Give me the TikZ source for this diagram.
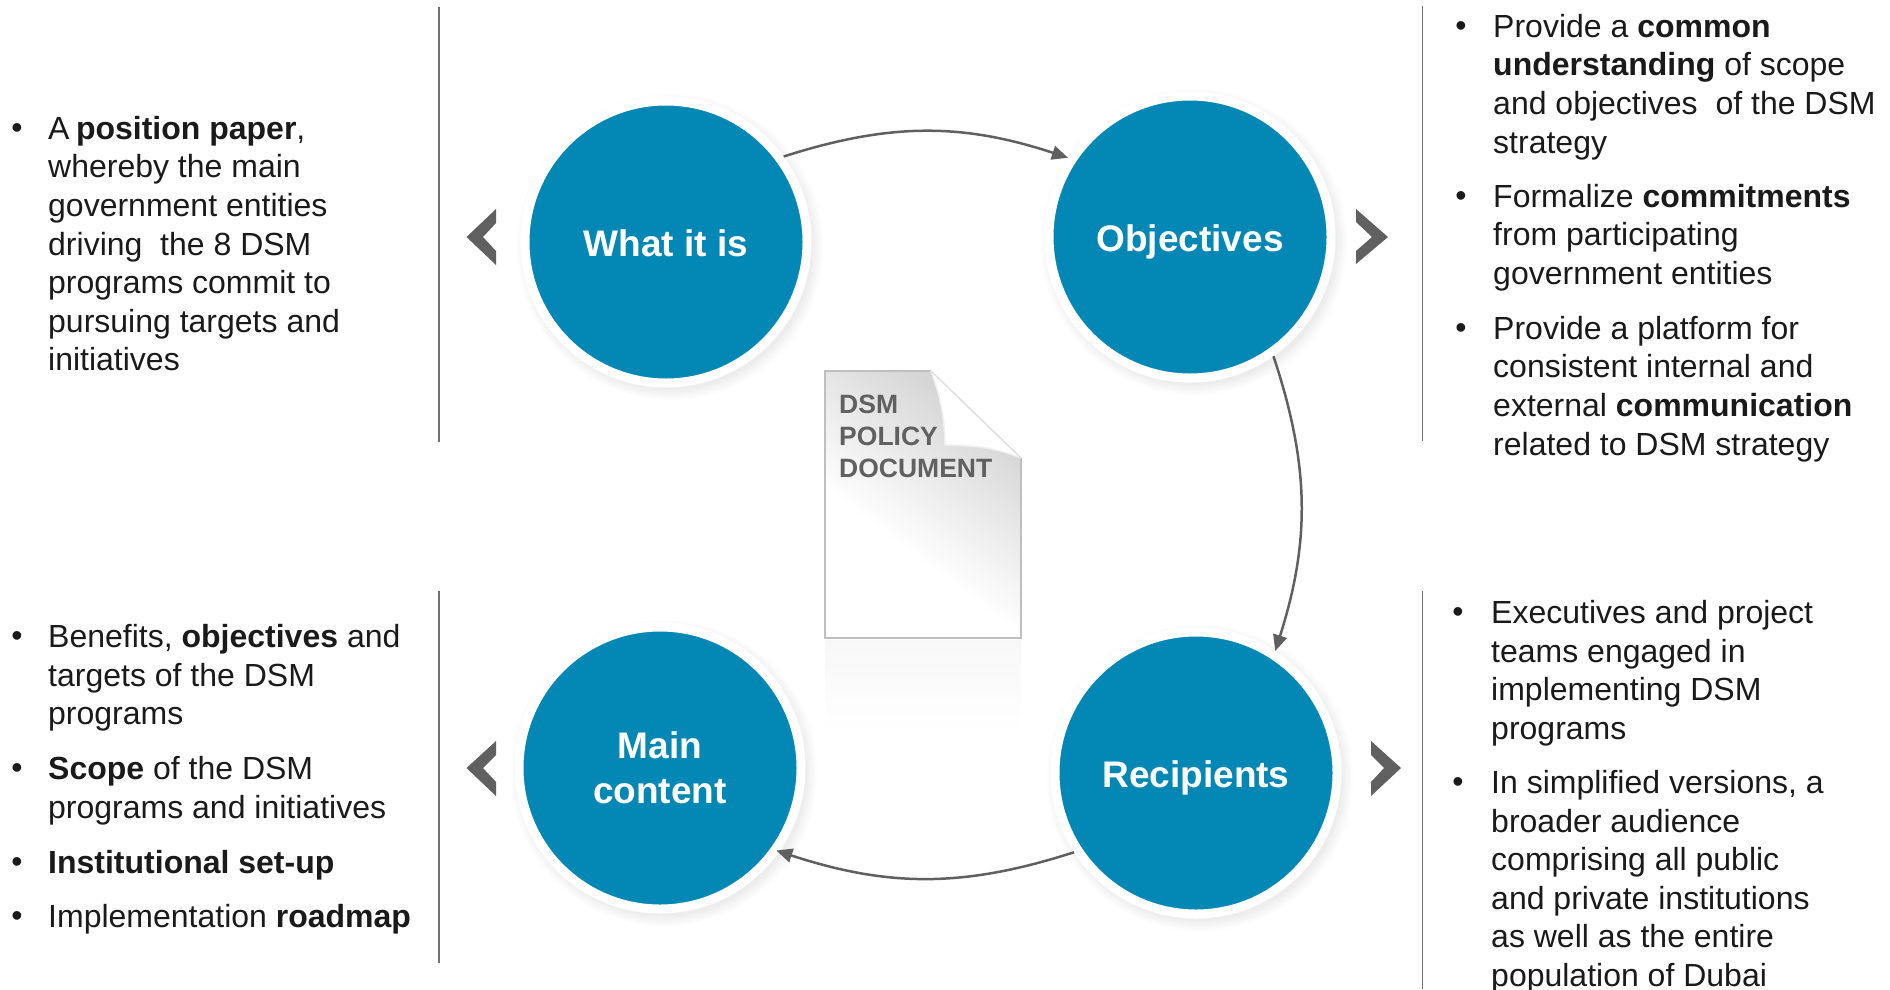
\documentclass[tikz,border=0pt]{standalone}
\usepackage{fontspec}
\setmainfont{Liberation Sans}
\usetikzlibrary{arrows.meta}
\definecolor{dsmblue}{HTML}{0388B5}
\definecolor{dsmgray}{HTML}{606060}
\definecolor{dsmtext}{HTML}{1A1A1A}
\pgfdeclareverticalshading{docfold}{100bp}{color(0bp)=(white); color(40bp)=(white); color(75bp)=(black!18); color(100bp)=(black!18)}
\newcommand{\softshadow}[2]{
\foreach \r in {143,145,...,153} {
\fill[black, opacity=0.012] (#1+4,#2+5) circle (\r);
}
}
\tikzset{
phase/.style={circle, fill=dsmblue, draw=white, line width=9pt, minimum size=282pt, inner sep=0pt, align=center, text=white, font=\fontsize{37}{45}\selectfont\bfseries},
oneline/.style={phase, text height=29.5pt, text depth=0pt},
txt/.style={anchor=north west, inner sep=0pt, align=left, text=dsmtext, font=\fontsize{32}{38.6}\selectfont},
bul/.style={inner sep=0pt, text=dsmtext, font=\fontsize{32}{32}\selectfont},
flow/.style={-{Triangle[length=16pt,width=14pt]}, draw=dsmgray, line width=2.5pt, bend left=18},
rule/.style={draw=black!55, line width=1.5pt},
chev/.style={fill=dsmgray},
}
\begin{document}
\begin{tikzpicture}[x=1pt,y=-1pt]
\useasboundingbox (0,0) rectangle (1890,989);

\draw[rule] (439,7) -- (439,442);
\draw[rule] (439,591) -- (439,963);
\draw[rule] (1422.5,6) -- (1422.5,441);
\draw[rule] (1422.5,591) -- (1422.5,989);

\shade[top color=black!3, bottom color=white] (825,640) rectangle (1021,732);
\shade[shading=docfold, shading angle=-37] (825,371) -- (931,371) .. controls (942,400) and (945,425) .. (945,445) .. controls (975,445) and (1000,449) .. (1021,458) -- (1021,638) -- (825,638) -- cycle;
\draw[black!25, line width=1.5pt] (931,371) -- (825,371) -- (825,638) -- (1021,638) -- (1021,458);
\fill[white] (931,371) -- (1021,458) .. controls (1000,449) and (975,445) .. (945,445) .. controls (945,425) and (942,400) .. (931,371) -- cycle;
\draw[black!6, line width=1.5pt] (1021,458) .. controls (1000,449) and (975,445) .. (945,445) .. controls (945,425) and (942,400) .. (931,371);
\draw[black!12, line width=1.5pt] (931,371) -- (1021,458);
\node[inner sep=0pt, anchor=north west, align=left, text=dsmgray, font=\fontsize{26.5}{32}\selectfont\bfseries] (doclabel) at (839,395) {DSM\\POLICY\\DOCUMENT};

\softshadow{666}{242}
\softshadow{1190}{237}
\softshadow{1196}{773}
\softshadow{660}{768}

\node[oneline] (whatitis) at (666,242) {What it is};
\node[oneline] (objectives) at (1190,237) {Objectives};
\node[oneline] (recipients) at (1196,773) {Recipients};
\node[phase] (maincontent) at (660,768) {Main\\content};

\draw[flow] (whatitis.36) to (objectives.147);
\draw[flow] (objectives.-55) to (recipients.57);
\draw[flow, shorten >=-3pt] (recipients.213) to (maincontent.-35);

\fill[chev] (496,209) -- (466.5,237) -- (496,265) -- (496,251) -- (483,237) -- (496,223) -- cycle;
\fill[chev] (1356,209) -- (1388,237) -- (1356,264) -- (1356,251) -- (1372,237) -- (1356,222) -- cycle;
\fill[chev] (496,741) -- (466.5,768) -- (496,796) -- (496,782) -- (483,768) -- (496,755) -- cycle;
\fill[chev] (1371,741) -- (1401,768) -- (1371,796) -- (1371,782) -- (1384,768) -- (1371,755) -- cycle;

\node[bul] (b1) at (17,131) {•};
\node[txt] (t1) at (48,116) {A\kern-2.4pt\ \textbf{position paper},\\whereby the main\\government entities\\driving~ the 8 DSM\\programs commit to\\pursuing targets and\\initiatives};

\node[bul] (b2) at (17,639) {•};
\node[txt] (t2) at (48,624) {Benefits, \textbf{objectives} and\\targets of the DSM\\programs};
\node[bul] (b3) at (17,771) {•};
\node[txt] (t3) at (48,756) {\textbf{Scope} of the DSM\\programs and initiatives};
\node[bul] (b4) at (17,865) {•};
\node[txt] (t4) at (48,850) {\textbf{Institutional set-up}};
\node[bul] (b5) at (17,919) {•};
\node[txt] (t5) at (48,904) {Implementation \textbf{roadmap}};

\node[bul] (b6) at (1461,29) {•};
\node[txt] (t6) at (1493,14) {Provide a \textbf{common}\\\textbf{understanding} of scope\\and objectives~ of the DSM\\strategy};
\node[bul] (b7) at (1461,199) {•};
\node[txt] (t7) at (1493,184) {Formalize \textbf{commitments}\\from participating\\government entities};
\node[bul] (b8) at (1461,331) {•};
\node[txt] (t8) at (1493,316) {Provide a platform for\\consistent internal and\\external \textbf{communication}\\related to DSM strategy};

\node[bul] (b9) at (1458,615) {•};
\node[txt] (t9) at (1491,600) {Executives and project\\teams engaged in\\implementing DSM\\programs};
\node[bul] (b10) at (1458,785) {•};
\node[txt] (t10) at (1491,770) {In simplified versions, a\\broader audience\\comprising all public\\and private institutions\\as well as the entire\\population of Dubai};
\end{tikzpicture}
\end{document}
